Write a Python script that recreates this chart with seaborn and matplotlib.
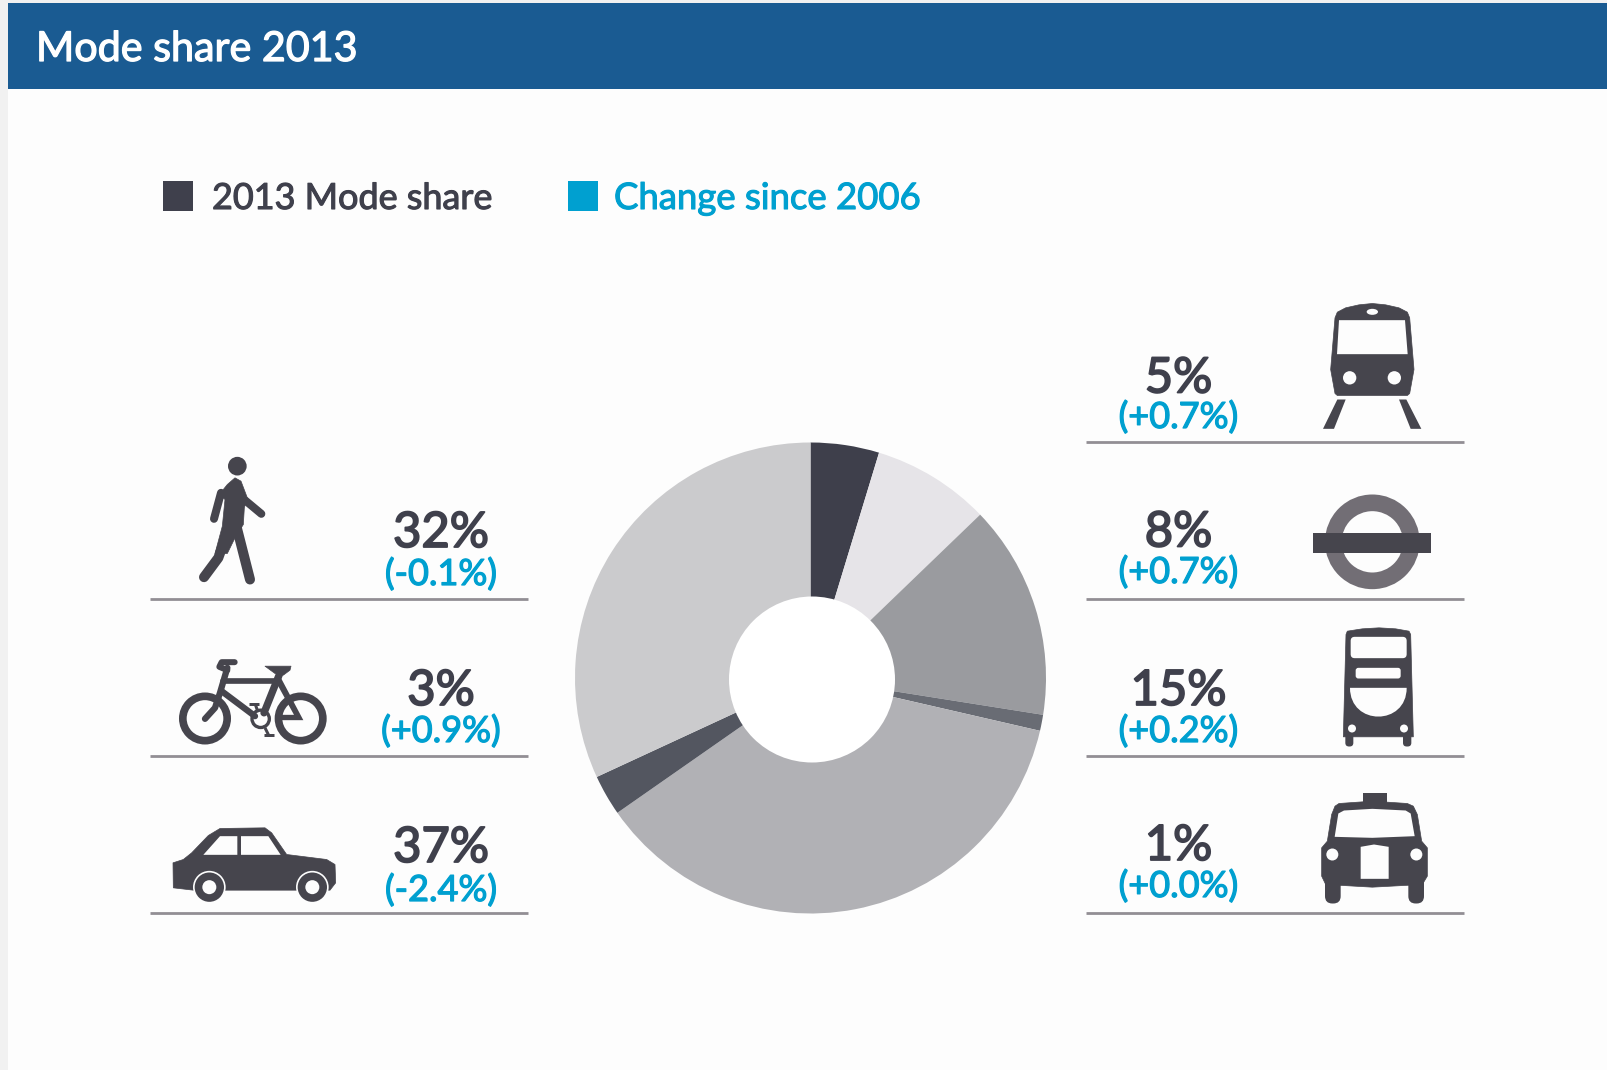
import matplotlib
matplotlib.use("Agg")
import matplotlib.pyplot as plt
import matplotlib.patheffects as pe
import seaborn as sns
from matplotlib.patches import Polygon, Circle, Ellipse, Rectangle, FancyBboxPatch, PathPatch
from matplotlib.path import Path

# ---- data -------------------------------------------------------------
modes = ["Rail", "Underground", "Bus", "Taxi", "Car", "Cycle", "Walk"]
wedge_values = [4.7, 8.1, 14.7, 1.1, 36.7, 2.8, 31.9]
share_labels = ["5%", "8%", "15%", "1%", "37%", "3%", "32%"]
change_labels = ["(+0.7%)", "(+0.7%)", "(+0.2%)", "(+0.0%)", "(-2.4%)", "(+0.9%)", "(-0.1%)"]
wedge_colors = ["#3e3f4b", "#e6e4e8", "#9a9b9f", "#696c74", "#b1b1b5", "#535660", "#cbcbcd"]
title_text = "Mode share 2013"
legend_labels = ["2013 Mode share", "Change since 2006"]

DARK, BLUE, ICON, RULE, BG = "#3f404c", "#00a0d0", "#46454d", "#928e94", "#fdfdfd"

sns.set_theme(style="white")
plt.rcParams["font.family"] = ["Lato", "DejaVu Sans"]
W, H = 1608, 1070
fig = plt.figure(figsize=(W / 100, H / 100), dpi=100, facecolor=BG)

# pie axes
cx, cy, R = 810.5, 678, 235.5
pie_ax = fig.add_axes([(cx - R) / W, 1 - (cy + R) / H, 2 * R / W, 2 * R / H])
pie_ax.pie(wedge_values, colors=sns.color_palette(wedge_colors), startangle=90, counterclock=False,
           radius=1, wedgeprops=dict(linewidth=0))
pie_ax.set_xlim(-1, 1)
pie_ax.set_ylim(-1, 1)

# overlay in pixel coordinates
ax = fig.add_axes([0, 0, 1, 1], facecolor="none")
ax.set_xlim(0, W)
ax.set_ylim(H, 0)
ax.axis("off")
ax.add_patch(Circle((812, 679.5), 83, fc="white", ec="none"))

def heavy(color, w):
    return [pe.withStroke(linewidth=w, foreground=color)]

# page furniture
ax.add_patch(Rectangle((0, 0), 8, H, fc="#f1f1f1", ec="none"))
ax.add_patch(Rectangle((0, 0), W, 3, fc="#f1f1f1", ec="none"))
ax.add_patch(Rectangle((8, 3), W - 8, 86, fc="#1a5b92", ec="none"))
ax.text(36, 61, title_text, color="white", fontsize=29.7, va="baseline", ha="left",
        path_effects=heavy("white", 0.9))

# legend
ax.add_patch(Rectangle((163, 181), 30, 30, fc=DARK, ec="none"))
ax.add_patch(Rectangle((568, 181), 30, 30, fc=BLUE, ec="none"))
ax.text(212, 209, legend_labels[0], color=DARK, fontsize=25.9, va="baseline", path_effects=heavy(DARK, 0.8))
ax.text(614, 209, legend_labels[1], color=BLUE, fontsize=26.3, va="baseline", path_effects=heavy(BLUE, 0.8))

# rules
for y in (598.5, 756, 912.5):
    ax.plot([150, 528], [y, y], color=RULE, lw=2, solid_capstyle="butt")
for y in (441.5, 598.5, 756, 912.5):
    ax.plot([1086.5, 1464], [y, y], color=RULE, lw=2, solid_capstyle="butt")

# labels: (x centre, share baseline, change baseline)
pos = {0: (1178.5, 392.5, 428), 1: (1178.5, 546.5, 583), 2: (1178.5, 705, 742), 3: (1178.5, 860, 897),
       4: (441, 862, 901), 5: (441, 705, 742), 6: (441, 547, 585)}
for i, (x, y1, y2) in pos.items():
    ax.text(x, y1, share_labels[i], color=DARK, fontsize=35.2, ha="center", va="baseline",
            path_effects=heavy(DARK, 1.3))
    ax.text(x, y2, change_labels[i], color=BLUE, fontsize=26, ha="center", va="baseline",
            path_effects=heavy(BLUE, 0.9))

# ---- icons, given in the zoom-crop frame -------------------------------
def mapper(x0, y0):
    return lambda pts: [(x0 + a / 3, y0 + b / 3) for a, b in pts]

def poly(m, pts, c=ICON, soft=0):
    ax.add_patch(Polygon(m(pts), closed=True, fc=c, ec=c if soft else "none", lw=soft, joinstyle="round"))

def circ(m, xy, r, c=ICON):
    ax.add_patch(Circle(m([xy])[0], r / 3, fc=c, ec="none"))

def ring(m, xy, r, w, c=ICON):
    ax.add_patch(Circle(m([xy])[0], (r - w / 2) / 3, fc="none", ec=c, lw=w / 3 * 0.72))

def stroke(m, pts, w, c=ICON, cap="round"):
    p = m(pts)
    ax.plot([q[0] for q in p], [q[1] for q in p], color=c, lw=w / 3 * 0.72,
            solid_capstyle=cap, solid_joinstyle="round")

def rrect(m, x0, y0, x1, y1, r, c=ICON):
    (a, b), (e, f) = m([(x0, y0), (x1, y1)])
    ax.add_patch(FancyBboxPatch((a + r / 3, b + r / 3), e - a - 2 * r / 3, f - b - 2 * r / 3,
                                boxstyle=f"round,pad={r / 3},rounding_size={r / 3}", fc=c, ec="none"))

def curve(m, verts, codes, c):
    ax.add_patch(PathPatch(Path(m(verts), codes), fc=c, ec="none"))

L = mapper(140, 429.5)
# walker
circ(L, (292, 110), 28)
poly(L, [(262, 165), (285, 145), (303, 155), (322, 205), (313, 235), (310, 285), (285, 325), (262, 372),
         (225, 372), (247, 290), (255, 210), (238, 195)], soft=0.5)
stroke(L, [(316, 213), (364, 253)], 24)
stroke(L, [(243, 190), (222, 268)], 24)
stroke(L, [(262, 310), (235, 385), (192, 443)], 30)
stroke(L, [(288, 285), (330, 450)], 30)
# bicycle
ring(L, (195, 867), 78, 23)
ring(L, (482, 867), 78, 23)
stroke(L, [(250, 753), (415, 753)], 17)
stroke(L, [(245, 785), (345, 860)], 19)
stroke(L, [(422, 725), (372, 850)], 22)
stroke(L, [(262, 715), (240, 790), (225, 835), (195, 868)], 19)
poly(L, [(420, 740), (490, 872), (410, 872), (412, 856), (462, 856), (412, 765)])
poly(L, [(375, 710), (453, 710), (450, 722), (430, 737), (405, 732)], soft=0.5)
stroke(L, [(284, 698), (245, 698), (238, 712), (262, 722)], 18)
circ(L, (362, 868), 31, BG)
ring(L, (362, 868), 31, 10)
stroke(L, [(328, 822), (358, 822)], 9, cap="butt")
stroke(L, [(345, 822), (352, 842)], 9, cap="butt")
stroke(L, [(372, 915), (402, 915)], 9, cap="butt")
stroke(L, [(385, 915), (375, 895)], 9, cap="butt")
# car
poly(L, [(99, 1300), (130, 1290), (155, 1270), (205, 1218), (240, 1197), (375, 1195), (395, 1210), (440, 1275),
         (560, 1290), (585, 1305), (587, 1360), (570, 1382), (160, 1382), (100, 1375)], soft=0.5)
poly(L, [(190, 1276), (240, 1220), (292, 1220), (292, 1276)], BG)
poly(L, [(303, 1276), (303, 1220), (385, 1220), (422, 1276)], BG)
for x in (208, 517):
    circ(L, (x, 1373), 49, BG)
    circ(L, (x, 1373), 44)
    circ(L, (x, 1373), 21, BG)

T = mapper(1079, 289.5)
# train
poly(T, [(768, 85), (775, 68), (800, 55), (840, 46), (880, 42), (920, 46), (960, 55), (985, 68), (992, 85),
         (1005, 240), (992, 312), (985, 318), (775, 318), (768, 312), (755, 240)], soft=0.5)
poly(T, [(780, 92), (978, 92), (986, 194), (774, 194)], BG)
circ(T, (812, 265), 20, BG)
circ(T, (946, 265), 20, BG)
a, b = T([(880, 67)])[0]
ax.add_patch(Ellipse((a, b), 34 / 3, 18 / 3, fc=BG, ec="none"))
poly(T, [(775, 330), (800, 330), (765, 418), (732, 418)])
poly(T, [(960, 330), (982, 330), (1027, 418), (995, 418)])
# roundel
ring(T, (880, 757), 142, 50, "#726e75")
poly(T, [(702, 729), (1056, 729), (1056, 789), (702, 789)])

B = mapper(1079, 609.5)
# bus
rrect(B, 799, 370, 823, 411, 11)
rrect(B, 972, 370, 997, 411, 11)
poly(B, [(805, 65), (850, 58), (900, 55), (950, 58), (990, 65), (995, 75), (1003, 382), (793, 382), (801, 75)], soft=0.5)
rrect(B, 815, 82, 983, 146, 12, BG)
rrect(B, 830, 175, 965, 207, 8, BG)
curve(B, [(813, 235), (983, 235), (983, 350), (813, 350), (813, 235)],
      [Path.MOVETO, Path.LINETO, Path.CURVE4, Path.CURVE4, Path.CURVE4], BG)
circ(B, (819, 357), 12, BG)
circ(B, (975, 357), 12, BG)
# taxi
poly(B, [(852, 551), (924, 551), (924, 580), (852, 580)])
rrect(B, 738, 790, 785, 882, 22)
rrect(B, 988, 790, 1035, 882, 22)
poly(B, [(780, 582), (880, 575), (985, 582), (1003, 590), (1015, 615), (1028, 695), (1045, 715), (1045, 800),
         (1030, 825), (880, 833), (740, 825), (728, 800), (728, 715), (745, 695), (758, 615), (768, 590)], soft=0.5)
poly(B, [(795, 603), (880, 598), (980, 603), (995, 612), (1007, 680), (880, 685), (767, 682), (778, 612)], BG)
circ(B, (760, 735), 18, BG)
circ(B, (1012, 735), 18, BG)
poly(B, [(845, 712), (885, 705), (929, 712), (929, 808), (845, 808)], BG)

fig.savefig("out.png", dpi=100, facecolor=BG)
